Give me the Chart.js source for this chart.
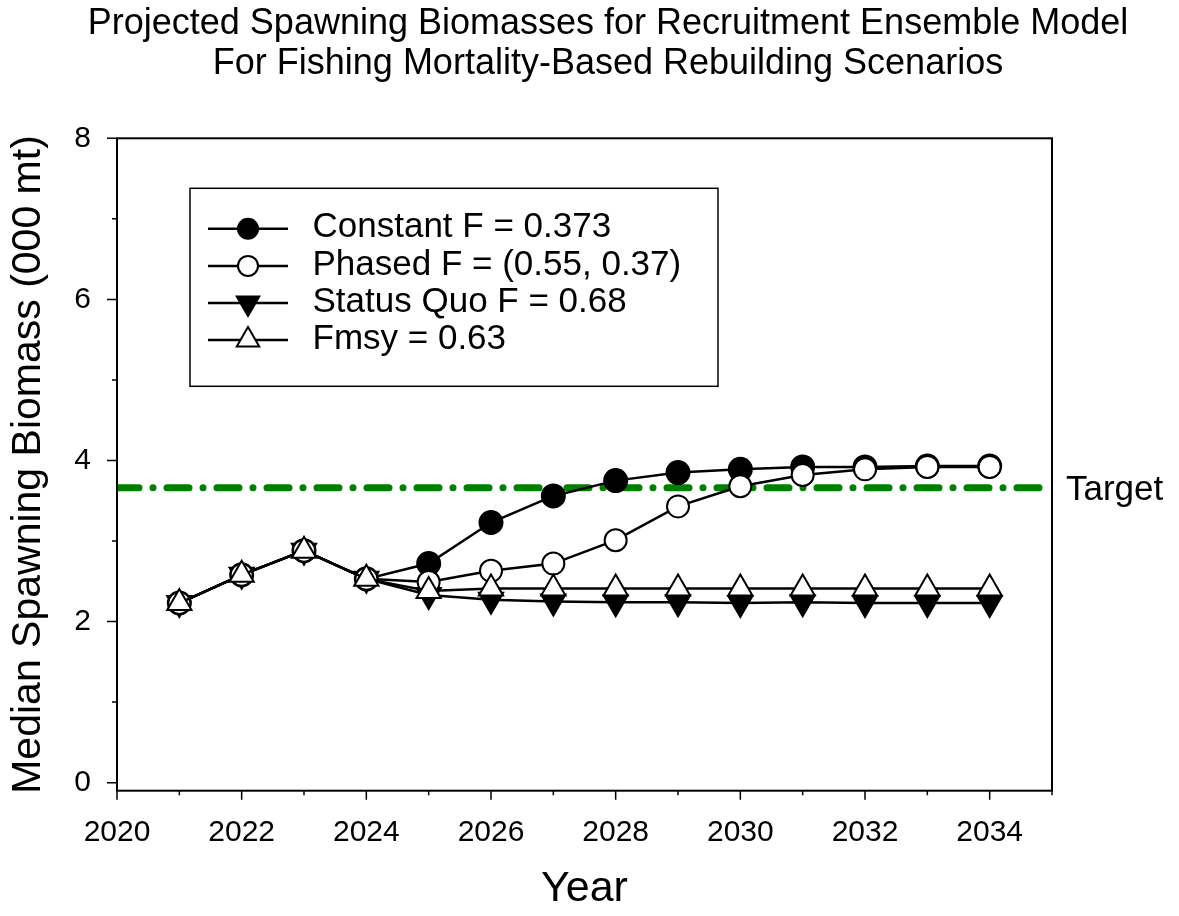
<!DOCTYPE html>
<html>
<head>
<meta charset="utf-8">
<title>Projected Spawning Biomasses</title>
<script src="https://cdn.jsdelivr.net/npm/chart.js@4.4.1/dist/chart.umd.min.js"></script>
<style>
  html, body { margin: 0; padding: 0; background: #fff; }
  #wrap { width: 1179px; height: 916px; position: relative; }
</style>
</head>
<body>
<div id="wrap"><canvas id="chart"></canvas></div>
<script>
'use strict';

// ── Datos ──────────────────────────────────────────────────────────────
const years        = [2021, 2022, 2023, 2024, 2025, 2026, 2027, 2028, 2029, 2030, 2031, 2032, 2033, 2034];
const constantF    = [2.23, 2.58, 2.88, 2.53, 2.72, 3.23, 3.56, 3.75, 3.85, 3.89, 3.92, 3.92, 3.93, 3.93];
const phasedF      = [2.23, 2.58, 2.88, 2.53, 2.49, 2.63, 2.72, 3.01, 3.43, 3.68, 3.82, 3.89, 3.92, 3.92];
const statusQuoF   = [2.23, 2.58, 2.88, 2.53, 2.33, 2.27, 2.25, 2.24, 2.24, 2.23, 2.24, 2.23, 2.23, 2.23];
const fmsyF        = [2.23, 2.58, 2.88, 2.53, 2.38, 2.41, 2.41, 2.41, 2.41, 2.41, 2.41, 2.41, 2.41, 2.41];
const targetLevel  = 3.66;
const targetYears  = [2020, 2035];

const seriesLabels = ['Constant F = 0.373', 'Phased F = (0.55, 0.37)', 'Status Quo F = 0.68', 'Fmsy = 0.63'];
const titleLines   = ['Projected Spawning Biomasses for Recruitment Ensemble Model',
                      'For Fishing Mortality-Based Rebuilding Scenarios'];
const xTickLabels  = [2020, 2022, 2024, 2026, 2028, 2030, 2032, 2034];
const xMinorTicks  = [2021, 2023, 2025, 2027, 2029, 2031, 2033, 2035];
const yTickLabels  = [0, 2, 4, 6, 8];
const yMinorTicks  = [1, 3, 5, 7];

// ── Estilo ─────────────────────────────────────────────────────────────
const FONT  = "'Liberation Sans', Arial, sans-serif";
const BLACK = '#000000';
const GREEN = '#008000';

const toPoints = arr => years.map((x, i) => ({ x, y: arr[i] }));

function series(label, values, style, order) {
  return {
    label,
    data: toPoints(values),
    borderColor: BLACK,
    borderWidth: 2.5,
    pointBorderColor: BLACK,
    pointBorderWidth: 2,
    pointHoverRadius: style.radius,
    tension: 0,
    order,
    ...style,
  };
}

const datasets = [
  series(seriesLabels[0], constantF,  { pointStyle: 'circle',   radius: 11.5, pointRadius: 11.5, pointBackgroundColor: BLACK }, 4),
  series(seriesLabels[1], phasedF,    { pointStyle: 'circle',   radius: 11,   pointRadius: 11,   pointBackgroundColor: '#fff' }, 2),
  series(seriesLabels[2], statusQuoF, { pointStyle: 'triangle', radius: 14,   pointRadius: 14,   pointRotation: 180, pointBackgroundColor: BLACK }, 3),
  series(seriesLabels[3], fmsyF,      { pointStyle: 'triangle', radius: 14,   pointRadius: 14,   pointBackgroundColor: '#fff' }, 1),
  {
    label: 'Target',
    data: targetYears.map(x => ({ x, y: targetLevel })),
    borderColor: GREEN,
    borderWidth: 7,
    borderDash: [22, 14, 0, 14],
    borderCapStyle: 'round',
    pointRadius: 0,
    order: 10,
    isTarget: true,
  },
];

// ── Plugin: marco, ticks, titulo, leyenda y etiqueta "Target" ──────────
const decorations = {
  id: 'decorations',
  afterDraw(chart) {
    const { ctx, chartArea: a, scales: { x, y } } = chart;
    ctx.save();

    // marco
    ctx.strokeStyle = BLACK;
    ctx.lineWidth = 2;
    ctx.strokeRect(a.left, a.top, a.right - a.left, a.bottom - a.top);

    // ticks
    ctx.lineWidth = 1.5;
    ctx.beginPath();
    xTickLabels.forEach(v => { const px = x.getPixelForValue(v); ctx.moveTo(px, a.bottom); ctx.lineTo(px, a.bottom + 9); });
    xMinorTicks.forEach(v => { const px = x.getPixelForValue(v); ctx.moveTo(px, a.bottom); ctx.lineTo(px, a.bottom + 4.5); });
    yTickLabels.forEach(v => { const py = y.getPixelForValue(v); ctx.moveTo(a.left, py); ctx.lineTo(a.left - 10, py); });
    yMinorTicks.forEach(v => { const py = y.getPixelForValue(v); ctx.moveTo(a.left, py); ctx.lineTo(a.left - 5, py); });
    ctx.stroke();

    // titulo
    ctx.fillStyle = BLACK;
    ctx.font = `36px ${FONT}`;
    ctx.textAlign = 'center';
    ctx.textBaseline = 'alphabetic';
    titleLines.forEach((t, i) => ctx.fillText(t, 608, 34 + i * 40));

    // etiqueta Target
    ctx.font = `35px ${FONT}`;
    ctx.textAlign = 'left';
    ctx.fillText('Target', a.right + 14, y.getPixelForValue(targetLevel) + 12.5);

    // leyenda
    const lx = a.left + 73, ly = a.top + 50, lw = 528, lh = 198;
    ctx.fillStyle = '#fff';
    ctx.fillRect(lx, ly, lw, lh);
    ctx.strokeStyle = BLACK;
    ctx.lineWidth = 1.5;
    ctx.strokeRect(lx, ly, lw, lh);

    chart.data.datasets.filter(d => !d.isTarget).forEach((d, i) => {
      const ry = ly + 40.5 + i * 37.1;
      ctx.strokeStyle = BLACK;
      ctx.lineWidth = 2.5;
      ctx.beginPath();
      ctx.moveTo(lx + 18, ry);
      ctx.lineTo(lx + 98, ry);
      ctx.stroke();

      ctx.fillStyle = d.pointBackgroundColor;
      ctx.strokeStyle = BLACK;
      ctx.lineWidth = 2;
      Chart.helpers.drawPoint(ctx, {
        pointStyle: d.pointStyle,
        radius: d.pointStyle === 'circle' ? 10 : 13,
        rotation: d.pointRotation || 0,
        borderWidth: 2,
      }, lx + 58, ry);

      ctx.fillStyle = BLACK;
      ctx.font = `35px ${FONT}`;
      ctx.textAlign = 'left';
      ctx.textBaseline = 'alphabetic';
      ctx.fillText(d.label, lx + 122.5, ry + 8.6);
    });

    ctx.restore();
  },
};

// ── Grafico ────────────────────────────────────────────────────────────
new Chart(document.getElementById('chart'), {
  type: 'line',
  data: { datasets },
  plugins: [decorations],
  options: {
    responsive: true,
    maintainAspectRatio: false,
    animation: false,
    layout: { padding: { left: 0, right: 127, top: 138.3, bottom: 0 } },
    plugins: {
      legend: { display: false },
      title: { display: false },
      tooltip: { enabled: false },
    },
    scales: {
      x: {
        type: 'linear',
        min: 2020,
        max: 2035,
        afterBuildTicks: sc => { sc.ticks = xTickLabels.map(v => ({ value: v })); },
        afterFit: sc => { sc.height = 916 - 790.7; },
        grid: { display: false, drawTicks: false, tickLength: 0 },
        border: { display: false },
        ticks: {
          color: BLACK,
          font: { family: FONT, size: 30 },
          padding: 24,
          maxRotation: 0,
          autoSkip: false,
          callback: v => String(v),
        },
        title: {
          display: true,
          text: 'Year',
          color: BLACK,
          font: { family: FONT, size: 43 },
          padding: { top: 0, bottom: 1 },
        },
      },
      y: {
        type: 'linear',
        min: -0.1,
        max: 8,
        afterBuildTicks: sc => { sc.ticks = yTickLabels.map(v => ({ value: v })); },
        afterFit: sc => { sc.width = 117; },
        grid: { display: false, drawTicks: false, tickLength: 0 },
        border: { display: false },
        ticks: {
          color: BLACK,
          font: { family: FONT, size: 30 },
          padding: 26,
          callback: v => String(v),
        },
        title: {
          display: true,
          text: 'Median Spawning Biomass (000 mt)',
          color: BLACK,
          font: { family: FONT, size: 41 },
          padding: { top: 3.7, bottom: 0 },
        },
      },
    },
  },
});
</script>
</body>
</html>
